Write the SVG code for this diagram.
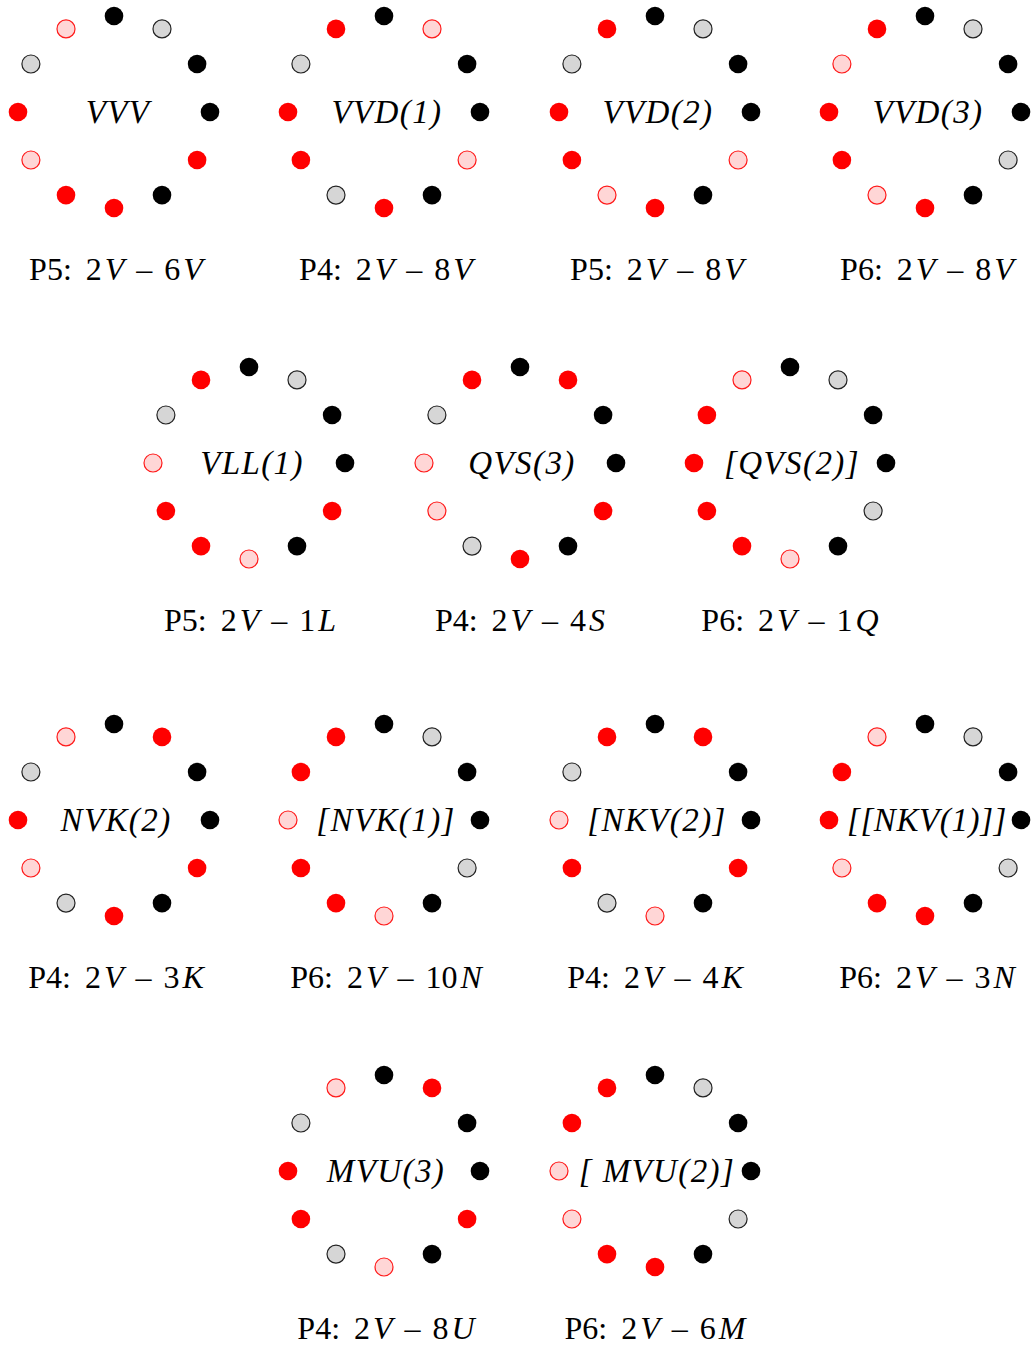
<svg xmlns="http://www.w3.org/2000/svg" width="1032" height="1349" viewBox="0 0 1032 1349">
<style>
.k{fill:#000}
.r{fill:#ff0000}
.g{fill:#d6d6d6;stroke:#222;stroke-width:1.2}
.p{fill:#ffd6d6;stroke:#ff1a1a;stroke-width:1.2}
.lbl{font-family:"Liberation Serif",serif;font-style:italic;font-size:33px;letter-spacing:1.4px;text-anchor:middle;fill:#000}
.cap{font-family:"Liberation Serif",serif;font-size:32px;text-anchor:middle;fill:#000}
.i{font-style:italic}
</style>
<rect width="1032" height="1349" fill="#fff"/>
<g id="connectors"/>
<!-- Row 1 -->
<g id="n-VVV" transform="translate(114,112)">
<circle class="k" cx="0" cy="-96" r="9.3"/><circle class="g" cx="48" cy="-83.1" r="9"/><circle class="k" cx="83.1" cy="-48" r="9.3"/><circle class="k" cx="96" cy="0" r="9.3"/><circle class="r" cx="83.1" cy="48" r="9.3"/><circle class="k" cx="48" cy="83.1" r="9.3"/><circle class="r" cx="0" cy="96" r="9.3"/><circle class="r" cx="-48" cy="83.1" r="9.3"/><circle class="p" cx="-83.1" cy="48" r="9"/><circle class="r" cx="-96" cy="0" r="9.3"/><circle class="g" cx="-83.1" cy="-48" r="9"/><circle class="p" cx="-48" cy="-83.1" r="9"/>
<text class="lbl" x="4" y="11">VVV</text>
<text class="cap" x="2" y="168">P5:<tspan dx="14">2</tspan><tspan class="i" dx="3">V</tspan><tspan dx="12">–</tspan><tspan dx="12">6</tspan><tspan class="i" dx="3">V</tspan></text>
</g>
<g id="n-VVD1" transform="translate(384,112)">
<circle class="k" cx="0" cy="-96" r="9.3"/><circle class="p" cx="48" cy="-83.1" r="9"/><circle class="k" cx="83.1" cy="-48" r="9.3"/><circle class="k" cx="96" cy="0" r="9.3"/><circle class="p" cx="83.1" cy="48" r="9"/><circle class="k" cx="48" cy="83.1" r="9.3"/><circle class="r" cx="0" cy="96" r="9.3"/><circle class="g" cx="-48" cy="83.1" r="9"/><circle class="r" cx="-83.1" cy="48" r="9.3"/><circle class="r" cx="-96" cy="0" r="9.3"/><circle class="g" cx="-83.1" cy="-48" r="9"/><circle class="r" cx="-48" cy="-83.1" r="9.3"/>
<text class="lbl" x="3" y="11">VVD(1)</text>
<text class="cap" x="2" y="168">P4:<tspan dx="14">2</tspan><tspan class="i" dx="3">V</tspan><tspan dx="12">–</tspan><tspan dx="12">8</tspan><tspan class="i" dx="3">V</tspan></text>
</g>
<g id="n-VVD2" transform="translate(655,112)">
<circle class="k" cx="0" cy="-96" r="9.3"/><circle class="g" cx="48" cy="-83.1" r="9"/><circle class="k" cx="83.1" cy="-48" r="9.3"/><circle class="k" cx="96" cy="0" r="9.3"/><circle class="p" cx="83.1" cy="48" r="9"/><circle class="k" cx="48" cy="83.1" r="9.3"/><circle class="r" cx="0" cy="96" r="9.3"/><circle class="p" cx="-48" cy="83.1" r="9"/><circle class="r" cx="-83.1" cy="48" r="9.3"/><circle class="r" cx="-96" cy="0" r="9.3"/><circle class="g" cx="-83.1" cy="-48" r="9"/><circle class="r" cx="-48" cy="-83.1" r="9.3"/>
<text class="lbl" x="3" y="11">VVD(2)</text>
<text class="cap" x="2" y="168">P5:<tspan dx="14">2</tspan><tspan class="i" dx="3">V</tspan><tspan dx="12">–</tspan><tspan dx="12">8</tspan><tspan class="i" dx="3">V</tspan></text>
</g>
<g id="n-VVD3" transform="translate(925,112)">
<circle class="k" cx="0" cy="-96" r="9.3"/><circle class="g" cx="48" cy="-83.1" r="9"/><circle class="k" cx="83.1" cy="-48" r="9.3"/><circle class="k" cx="96" cy="0" r="9.3"/><circle class="g" cx="83.1" cy="48" r="9"/><circle class="k" cx="48" cy="83.1" r="9.3"/><circle class="r" cx="0" cy="96" r="9.3"/><circle class="p" cx="-48" cy="83.1" r="9"/><circle class="r" cx="-83.1" cy="48" r="9.3"/><circle class="r" cx="-96" cy="0" r="9.3"/><circle class="p" cx="-83.1" cy="-48" r="9"/><circle class="r" cx="-48" cy="-83.1" r="9.3"/>
<text class="lbl" x="3" y="11">VVD(3)</text>
<text class="cap" x="2" y="168">P6:<tspan dx="14">2</tspan><tspan class="i" dx="3">V</tspan><tspan dx="12">–</tspan><tspan dx="12">8</tspan><tspan class="i" dx="3">V</tspan></text>
</g>
<!-- Row 2 -->
<g id="n-VLL1" transform="translate(249,463)">
<circle class="k" cx="0" cy="-96" r="9.3"/><circle class="g" cx="48" cy="-83.1" r="9"/><circle class="k" cx="83.1" cy="-48" r="9.3"/><circle class="k" cx="96" cy="0" r="9.3"/><circle class="r" cx="83.1" cy="48" r="9.3"/><circle class="k" cx="48" cy="83.1" r="9.3"/><circle class="p" cx="0" cy="96" r="9"/><circle class="r" cx="-48" cy="83.1" r="9.3"/><circle class="r" cx="-83.1" cy="48" r="9.3"/><circle class="p" cx="-96" cy="0" r="9"/><circle class="g" cx="-83.1" cy="-48" r="9"/><circle class="r" cx="-48" cy="-83.1" r="9.3"/>
<text class="lbl" x="3" y="11">VLL(1)</text>
<text class="cap" x="1" y="168">P5:<tspan dx="14">2</tspan><tspan class="i" dx="3">V</tspan><tspan dx="12">–</tspan><tspan dx="12">1</tspan><tspan class="i" dx="3">L</tspan></text>
</g>
<g id="n-QVS3" transform="translate(520,463)">
<circle class="k" cx="0" cy="-96" r="9.3"/><circle class="r" cx="48" cy="-83.1" r="9.3"/><circle class="k" cx="83.1" cy="-48" r="9.3"/><circle class="k" cx="96" cy="0" r="9.3"/><circle class="r" cx="83.1" cy="48" r="9.3"/><circle class="k" cx="48" cy="83.1" r="9.3"/><circle class="r" cx="0" cy="96" r="9.3"/><circle class="g" cx="-48" cy="83.1" r="9"/><circle class="p" cx="-83.1" cy="48" r="9"/><circle class="p" cx="-96" cy="0" r="9"/><circle class="g" cx="-83.1" cy="-48" r="9"/><circle class="r" cx="-48" cy="-83.1" r="9.3"/>
<text class="lbl" x="2" y="11">QVS(3)</text>
<text class="cap" x="0" y="168">P4:<tspan dx="14">2</tspan><tspan class="i" dx="3">V</tspan><tspan dx="12">–</tspan><tspan dx="12">4</tspan><tspan class="i" dx="3">S</tspan></text>
</g>
<g id="n-QVS2" transform="translate(790,463)">
<circle class="k" cx="0" cy="-96" r="9.3"/><circle class="g" cx="48" cy="-83.1" r="9"/><circle class="k" cx="83.1" cy="-48" r="9.3"/><circle class="k" cx="96" cy="0" r="9.3"/><circle class="g" cx="83.1" cy="48" r="9"/><circle class="k" cx="48" cy="83.1" r="9.3"/><circle class="p" cx="0" cy="96" r="9"/><circle class="r" cx="-48" cy="83.1" r="9.3"/><circle class="r" cx="-83.1" cy="48" r="9.3"/><circle class="r" cx="-96" cy="0" r="9.3"/><circle class="r" cx="-83.1" cy="-48" r="9.3"/><circle class="p" cx="-48" cy="-83.1" r="9"/>
<text class="lbl" x="2" y="11">[QVS(2)]</text>
<text class="cap" x="0" y="168">P6:<tspan dx="14">2</tspan><tspan class="i" dx="3">V</tspan><tspan dx="12">–</tspan><tspan dx="12">1</tspan><tspan class="i" dx="3">Q</tspan></text>
</g>
<!-- Row 3 -->
<g id="n-NVK2" transform="translate(114,820)">
<circle class="k" cx="0" cy="-96" r="9.3"/><circle class="r" cx="48" cy="-83.1" r="9.3"/><circle class="k" cx="83.1" cy="-48" r="9.3"/><circle class="k" cx="96" cy="0" r="9.3"/><circle class="r" cx="83.1" cy="48" r="9.3"/><circle class="k" cx="48" cy="83.1" r="9.3"/><circle class="r" cx="0" cy="96" r="9.3"/><circle class="g" cx="-48" cy="83.1" r="9"/><circle class="p" cx="-83.1" cy="48" r="9"/><circle class="r" cx="-96" cy="0" r="9.3"/><circle class="g" cx="-83.1" cy="-48" r="9"/><circle class="p" cx="-48" cy="-83.1" r="9"/>
<text class="lbl" x="2" y="11">NVK(2)</text>
<text class="cap" x="2" y="168">P4:<tspan dx="14">2</tspan><tspan class="i" dx="3">V</tspan><tspan dx="12">–</tspan><tspan dx="12">3</tspan><tspan class="i" dx="3">K</tspan></text>
</g>
<g id="n-NVK1" transform="translate(384,820)">
<circle class="k" cx="0" cy="-96" r="9.3"/><circle class="g" cx="48" cy="-83.1" r="9"/><circle class="k" cx="83.1" cy="-48" r="9.3"/><circle class="k" cx="96" cy="0" r="9.3"/><circle class="g" cx="83.1" cy="48" r="9"/><circle class="k" cx="48" cy="83.1" r="9.3"/><circle class="p" cx="0" cy="96" r="9"/><circle class="r" cx="-48" cy="83.1" r="9.3"/><circle class="r" cx="-83.1" cy="48" r="9.3"/><circle class="p" cx="-96" cy="0" r="9"/><circle class="r" cx="-83.1" cy="-48" r="9.3"/><circle class="r" cx="-48" cy="-83.1" r="9.3"/>
<text class="lbl" x="2" y="11">[NVK(1)]</text>
<text class="cap" x="2" y="168">P6:<tspan dx="14">2</tspan><tspan class="i" dx="3">V</tspan><tspan dx="12">–</tspan><tspan dx="12">10</tspan><tspan class="i" dx="3">N</tspan></text>
</g>
<g id="n-NKV2" transform="translate(655,820)">
<circle class="k" cx="0" cy="-96" r="9.3"/><circle class="r" cx="48" cy="-83.1" r="9.3"/><circle class="k" cx="83.1" cy="-48" r="9.3"/><circle class="k" cx="96" cy="0" r="9.3"/><circle class="r" cx="83.1" cy="48" r="9.3"/><circle class="k" cx="48" cy="83.1" r="9.3"/><circle class="p" cx="0" cy="96" r="9"/><circle class="g" cx="-48" cy="83.1" r="9"/><circle class="r" cx="-83.1" cy="48" r="9.3"/><circle class="p" cx="-96" cy="0" r="9"/><circle class="g" cx="-83.1" cy="-48" r="9"/><circle class="r" cx="-48" cy="-83.1" r="9.3"/>
<text class="lbl" x="2" y="11">[NKV(2)]</text>
<text class="cap" x="0" y="168">P4:<tspan dx="14">2</tspan><tspan class="i" dx="3">V</tspan><tspan dx="12">–</tspan><tspan dx="12">4</tspan><tspan class="i" dx="3">K</tspan></text>
</g>
<g id="n-NKV1" transform="translate(925,820)">
<circle class="k" cx="0" cy="-96" r="9.3"/><circle class="g" cx="48" cy="-83.1" r="9"/><circle class="k" cx="83.1" cy="-48" r="9.3"/><circle class="k" cx="96" cy="0" r="9.3"/><circle class="g" cx="83.1" cy="48" r="9"/><circle class="k" cx="48" cy="83.1" r="9.3"/><circle class="r" cx="0" cy="96" r="9.3"/><circle class="r" cx="-48" cy="83.1" r="9.3"/><circle class="p" cx="-83.1" cy="48" r="9"/><circle class="r" cx="-96" cy="0" r="9.3"/><circle class="r" cx="-83.1" cy="-48" r="9.3"/><circle class="p" cx="-48" cy="-83.1" r="9"/>
<text class="lbl" x="2" y="11" style="letter-spacing:0.6px">[[NKV(1)]]</text>
<text class="cap" x="2" y="168">P6:<tspan dx="14">2</tspan><tspan class="i" dx="3">V</tspan><tspan dx="12">–</tspan><tspan dx="12">3</tspan><tspan class="i" dx="3">N</tspan></text>
</g>
<!-- Row 4 -->
<g id="n-MVU3" transform="translate(384,1171)">
<circle class="k" cx="0" cy="-96" r="9.3"/><circle class="r" cx="48" cy="-83.1" r="9.3"/><circle class="k" cx="83.1" cy="-48" r="9.3"/><circle class="k" cx="96" cy="0" r="9.3"/><circle class="r" cx="83.1" cy="48" r="9.3"/><circle class="k" cx="48" cy="83.1" r="9.3"/><circle class="p" cx="0" cy="96" r="9"/><circle class="g" cx="-48" cy="83.1" r="9"/><circle class="r" cx="-83.1" cy="48" r="9.3"/><circle class="r" cx="-96" cy="0" r="9.3"/><circle class="g" cx="-83.1" cy="-48" r="9"/><circle class="p" cx="-48" cy="-83.1" r="9"/>
<text class="lbl" x="2" y="11">MVU(3)</text>
<text class="cap" x="2" y="168">P4:<tspan dx="14">2</tspan><tspan class="i" dx="3">V</tspan><tspan dx="12">–</tspan><tspan dx="12">8</tspan><tspan class="i" dx="3">U</tspan></text>
</g>
<g id="n-MVU2" transform="translate(655,1171)">
<circle class="k" cx="0" cy="-96" r="9.3"/><circle class="g" cx="48" cy="-83.1" r="9"/><circle class="k" cx="83.1" cy="-48" r="9.3"/><circle class="k" cx="96" cy="0" r="9.3"/><circle class="g" cx="83.1" cy="48" r="9"/><circle class="k" cx="48" cy="83.1" r="9.3"/><circle class="r" cx="0" cy="96" r="9.3"/><circle class="r" cx="-48" cy="83.1" r="9.3"/><circle class="p" cx="-83.1" cy="48" r="9"/><circle class="p" cx="-96" cy="0" r="9"/><circle class="r" cx="-83.1" cy="-48" r="9.3"/><circle class="r" cx="-48" cy="-83.1" r="9.3"/>
<text class="lbl" x="2" y="11" xml:space="preserve">[ MVU(2)]</text>
<text class="cap" x="0" y="168">P6:<tspan dx="14">2</tspan><tspan class="i" dx="3">V</tspan><tspan dx="12">–</tspan><tspan dx="12">6</tspan><tspan class="i" dx="3">M</tspan></text>
</g>
</svg>
